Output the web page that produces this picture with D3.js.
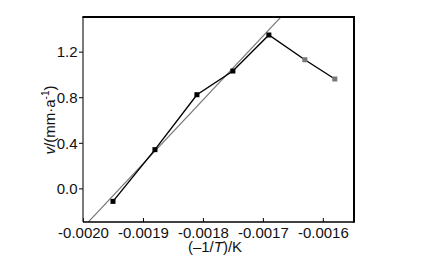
<!DOCTYPE html>
<html><head><meta charset="utf-8">
<script src="https://cdn.jsdelivr.net/npm/d3@7"></script>
<style>body{margin:0;background:#fff}svg{display:block}text{font-family:"Liberation Sans",Arial,sans-serif;fill:#111}</style>
</head><body><svg id="c" width="423" height="261"></svg>
<script>
const xValues = [-0.00195, -0.00188, -0.00181, -0.00175, -0.00169, -0.00163, -0.00158];
const yValues = [-0.114, 0.34, 0.822, 1.03, 1.346, 1.129, 0.96];
const pointGroup = ["black","black","black","black","black","gray","gray"];
const fitX = [-0.001991, -0.00167];
const fitY = [-0.295, 1.504];
const xTicks = [-0.0020, -0.0019, -0.0018, -0.0017, -0.0016];
const yTicks = [0.0, 0.4, 0.8, 1.2];

const svg = d3.select("#c");
const L = 83, R = 354, T = 17, B = 222;
const x = d3.scaleLinear().domain([-0.0020, -0.001548]).range([L, R]);
const y = d3.scaleLinear().domain([-0.295, 1.504]).range([B, T]);

svg.append("clipPath").attr("id","clip").append("rect").attr("x",L).attr("y",T).attr("width",R-L).attr("height",B-T);

// fit line
svg.append("line").attr("clip-path","url(#clip)")
  .attr("x1", x(fitX[0])).attr("y1", y(fitY[0])).attr("x2", x(fitX[1])).attr("y2", y(fitY[1]))
  .attr("stroke","#777").attr("stroke-width",1.1);

const pts = xValues.map((v,i)=>({x:v,y:yValues[i],g:pointGroup[i]}));
svg.append("path").datum(pts)
  .attr("d", d3.line().x(d=>x(d.x)).y(d=>y(d.y)))
  .attr("fill","none").attr("stroke","#000").attr("stroke-width",1.4);
svg.selectAll("rect.pt").data(pts).enter().append("rect").attr("class","pt")
  .attr("x",d=>x(d.x)-2.5).attr("y",d=>y(d.y)-2.5).attr("width",5).attr("height",5)
  .attr("fill",d=>d.g==="gray"?"#777":"#000");

// axes
const xa = svg.append("g").attr("transform",`translate(0,${B})`)
  .call(d3.axisBottom(x).tickValues(xTicks).tickSize(-4).tickPadding(5.5).tickFormat(d3.format(".4f")));
xa.select(".domain").remove();
xa.selectAll("text").style("font-size","15px").text(d=>d3.format(".4f")(d).replace("\u2212","-"));
xa.selectAll("line").attr("stroke","#000");

const ya = svg.append("g").attr("transform",`translate(${L},0)`)
  .call(d3.axisLeft(y).tickValues(yTicks).tickSize(4).tickPadding(1.5).tickFormat(d3.format(".1f")));
ya.select(".domain").remove();
ya.selectAll("text").style("font-size","15px").attr("dy","0.35em");
ya.selectAll("line").attr("stroke","#000");

// frame
svg.append("line").attr("x1",L).attr("x2",L).attr("y1",T).attr("y2",B).attr("stroke","#222").attr("stroke-width",1.2);
svg.append("line").attr("x1",L).attr("x2",R).attr("y1",B).attr("y2",B).attr("stroke","#000").attr("stroke-width",1.5);
svg.append("line").attr("x1",L-0.6).attr("x2",R+1).attr("y1",T).attr("y2",T).attr("stroke","#000").attr("stroke-width",2);
svg.append("line").attr("x1",R).attr("x2",R).attr("y1",T).attr("y2",B+0.75).attr("stroke","#000").attr("stroke-width",2);

// labels
const xl = svg.append("text").attr("x",215).attr("y",252).attr("text-anchor","middle").style("font-size","15px");
xl.append("tspan").text("(\u2013" + "1/");
xl.append("tspan").style("font-style","italic").text("T");
xl.append("tspan").text(")/K");

const yl = svg.append("text").attr("transform","translate(55,120) rotate(-90)").attr("text-anchor","middle").style("font-size","15px");
yl.append("tspan").style("font-style","italic").text("v");
yl.append("tspan").text("/(mm\u00b7a");
yl.append("tspan").attr("dy","-6").style("font-size","10px").text("-1");
yl.append("tspan").attr("dy","6").text(")");
</script></body></html>
